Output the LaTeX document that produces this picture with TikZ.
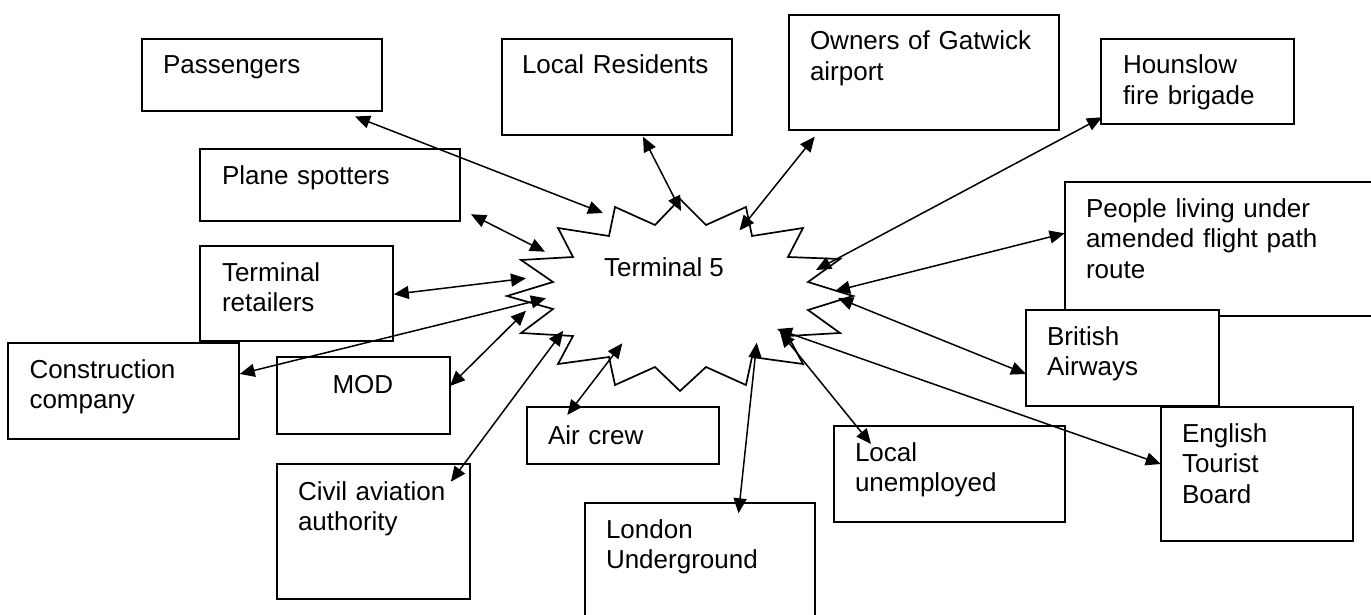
\documentclass[tikz,border=0pt]{standalone}
\usepackage{fontspec}
\setmainfont{Liberation Sans}
\usetikzlibrary{arrows.meta}
\tikzset{
  box/.style={draw, line width=1.7pt, fill=white, inner sep=0pt, outer sep=0pt},
  txt/.style={inner sep=0pt, outer sep=0pt, text width=330pt, align=left,
              font=\fontsize{26}{30.5}\selectfont},
  burst/.style={draw, line width=1.7pt, fill=white, line join=miter},
  conn/.style={{Triangle[length=15pt,width=13pt]}-{Triangle[length=15pt,width=13pt]},
               line width=1.5pt}
}
% name, x1, y1, x2, y2, text, dx, dy
\newcommand\stbox[8]{%
  \node[box, minimum width={#4-#2}, minimum height={#5-#3}, anchor=north west] (#1) at (#2,#3) {};
  \node[txt, anchor=base west] (#1-t) at ([xshift=#7pt, yshift=-#8pt]#1.north west) {#6};
}
\begin{document}
\begin{tikzpicture}[x=1pt, y=-1pt]
\useasboundingbox (0,0) rectangle (1371,615);
\clip (0,0) rectangle (1371,615);

% boxes
\stbox{pass}{142}{39}{382}{111}{Passengers}{21}{35}
\stbox{locres}{502}{39}{732}{135}{Local Residents}{20}{35}
\stbox{owners}{789}{15}{1059}{130}{Owners of Gatwick\\airport}{21}{35}
\stbox{houn}{1101}{39}{1294}{124}{Hounslow\\fire brigade}{22}{35}
\stbox{people}{1065}{182}{1385}{316}{People living under\\amended flight path\\route}{21}{35}
\stbox{ba}{1026}{310}{1219}{406}{British\\Airways}{21}{35}
\stbox{etb}{1161}{407}{1353}{541}{English\\Tourist\\Board}{21}{35}
\stbox{lunemp}{834}{426}{1065}{522}{Local\\unemployed}{21}{35}
\stbox{lund}{585}{503}{815}{640}{London\\Underground}{21}{35}
\stbox{air}{527}{407}{719}{464}{Air crew}{21}{37}
\stbox{civil}{277}{464}{470}{599}{Civil aviation\\authority}{21}{36}
\stbox{mod}{277}{357}{450}{434}{MOD}{55.5}{36}
\stbox{retail}{200}{246}{393}{341}{Terminal\\retailers}{22}{35}
\stbox{constr}{8}{343}{239}{439}{Construction\\company}{21.5}{35}
\stbox{spot}{200}{149}{460}{221}{Plane spotters}{22}{35}

% starburst
\draw[burst] (615,207) -- (655,225) -- (680,199) -- (706,225) -- (746,207)
  -- (752,236) -- (803,228) -- (788,257) -- (840,259) -- (808,282)
  -- (853,296) -- (808,310) -- (840,333) -- (788,336) -- (803,364)
  -- (752,357) -- (746,385) -- (706,367) -- (680,391) -- (655,367)
  -- (615,385) -- (609,357) -- (558,364) -- (573,336) -- (521,333)
  -- (553,309) -- (507,296) -- (553,282) -- (521,260) -- (573,257)
  -- (558,228) -- (609,236) -- cycle;
\node[inner sep=0pt, font=\fontsize{26}{30.5}\selectfont, anchor=base] (t5) at (664,276.7) {Terminal 5};

% connector end points
\coordinate (pass-a) at (355,116.5);   \coordinate (pass-b) at (603,213);
\coordinate (spot-a) at (471,214.3);   \coordinate (spot-b) at (545,251.7);
\coordinate (locres-a) at (643,136.7); \coordinate (locres-b) at (681,211);
\coordinate (owners-a) at (814.7,136.7); \coordinate (owners-b) at (739.5,230.5);
\coordinate (houn-a) at (1102,117.3);  \coordinate (houn-b) at (816,270);
\coordinate (people-a) at (1064.6,233.3); \coordinate (people-b) at (835,291);
\coordinate (ba-a) at (1026,374);      \coordinate (ba-b) at (838,298);
\coordinate (etb-a) at (1160.8,464);   \coordinate (etb-b) at (777,329);
\coordinate (lunemp-a) at (871,444);   \coordinate (lunemp-b) at (780,332);
\coordinate (lund-a) at (738.5,513.3); \coordinate (lund-b) at (756.7,342.7);
\coordinate (air-a) at (567.3,415);    \coordinate (air-b) at (622.3,343.3);
\coordinate (civil-a) at (450.9,481.7); \coordinate (civil-b) at (563.3,330.7);
\coordinate (mod-a) at (450,386);      \coordinate (mod-b) at (526,310.7);
\coordinate (constr-a) at (239.7,374); \coordinate (constr-b) at (546,298.3);
\coordinate (retail-a) at (393.8,294.3); \coordinate (retail-b) at (526,278.3);

\foreach \n in {pass,spot,locres,owners,houn,people,ba,etb,lunemp,lund,air,civil,mod,constr,retail}
  \draw[conn] (\n-a) -- (\n-b);
\end{tikzpicture}
\end{document}
